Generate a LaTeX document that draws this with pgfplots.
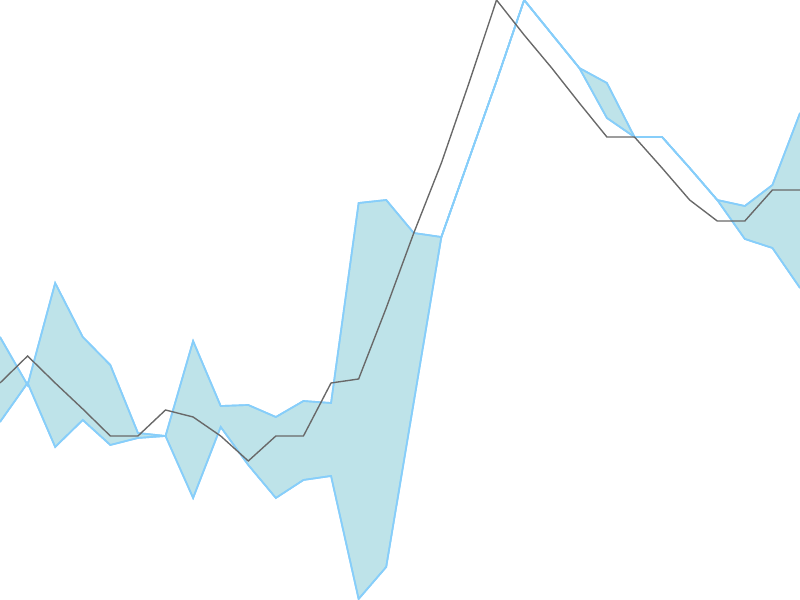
\documentclass[border=0pt]{standalone}
\usepackage{pgfplots}
\pgfplotsset{compat=1.18}
\usepgfplotslibrary{fillbetween}
\definecolor{bandfill}{RGB}{190,227,233}
\definecolor{bandedge}{RGB}{135,206,250}
\definecolor{midline}{RGB}{105,105,105}
\begin{document}
\begin{tikzpicture}
\begin{axis}[
  hide axis,
  scale only axis,
  width=8in, height=6in,
  xmin=0, xmax=29,
  ymin=0, ymax=600,
]
% upper / lower bound of the band
\addplot[name path=upper, color=bandedge, line width=1.2pt] coordinates {
  (0,263) (1,215) (2,317) (3,263) (4,235) (5,167) (6,164) (7,259) (8,194) (9,195)
  (10,183) (11,199) (12,197) (13,397) (14,400) (15,367) (16,363) (17,441) (18,519) (19,600)
  (20,566) (21,532) (22,517) (23,463) (24,463) (25,432) (26,400) (27,394) (28,415) (29,487)
};
\addplot[name path=lower, color=bandedge, line width=1.2pt] coordinates {
  (0,178) (1,217) (2,153) (3,180) (4,155) (5,162) (6,164) (7,102) (8,173) (9,135)
  (10,102) (11,120) (12,124) (13,1) (14,33) (15,198) (16,363) (17,441) (18,519) (19,600)
  (20,566) (21,532) (22,482) (23,463) (24,463) (25,432) (26,400) (27,361) (28,352) (29,312)
};
\addplot[bandfill, draw=none] fill between[of=upper and lower];
% redraw edges on top of the fill
\addplot[color=bandedge, line width=1.2pt] coordinates {
  (0,263) (1,215) (2,317) (3,263) (4,235) (5,167) (6,164) (7,259) (8,194) (9,195)
  (10,183) (11,199) (12,197) (13,397) (14,400) (15,367) (16,363) (17,441) (18,519) (19,600)
  (20,566) (21,532) (22,517) (23,463) (24,463) (25,432) (26,400) (27,394) (28,415) (29,487)
};
\addplot[color=bandedge, line width=1.2pt] coordinates {
  (0,178) (1,217) (2,153) (3,180) (4,155) (5,162) (6,164) (7,102) (8,173) (9,135)
  (10,102) (11,120) (12,124) (13,1) (14,33) (15,198) (16,363) (17,441) (18,519) (19,600)
  (20,566) (21,532) (22,482) (23,463) (24,463) (25,432) (26,400) (27,361) (28,352) (29,312)
};
% the series itself
\addplot[color=midline, line width=1pt] coordinates {
  (0,217) (1,244) (2,217) (3,191) (4,164) (5,164) (6,190) (7,183) (8,164) (9,139)
  (10,164) (11,164) (12,217) (13,221) (14,292) (15,367) (16,437) (17,517) (18,600) (19,565)
  (20,532) (21,497) (22,463) (23,463) (24,432) (25,400) (26,379) (27,379) (28,410) (29,410)
};
\end{axis}
\end{tikzpicture}
\end{document}
